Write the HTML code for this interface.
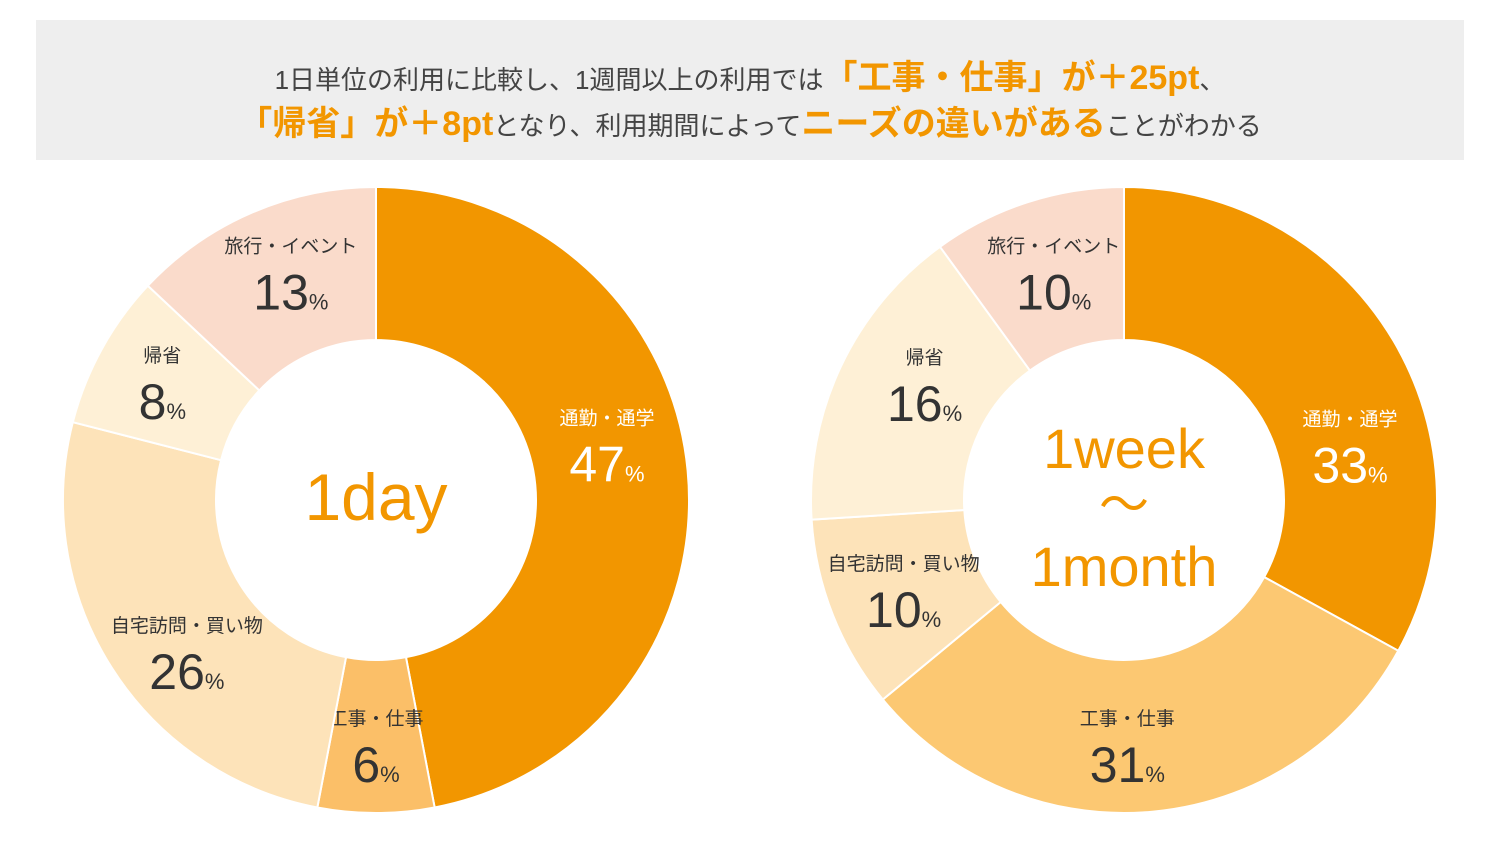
<!DOCTYPE html>
<html><head><meta charset="utf-8">
<style>
body{margin:0;width:1500px;height:844px;background:#fff;overflow:hidden;font-family:"Liberation Sans","Noto Sans CJK JP",sans-serif}
#banner{position:absolute;left:36px;top:20px;width:1428px;height:140px;background:#eeeeee}
.line{position:absolute;left:0;width:100%;text-align:center;color:#444;font-size:26px;white-space:nowrap}
.em{color:#f29600;font-size:34px;font-weight:bold}
svg{position:absolute;left:0;top:0}
</style></head><body>
<div id="banner">
<div class="line" style="top:30px">1日単位の利用に比較し、1週間以上の利用では<span class="em">「工事・仕事」が＋25pt</span>、</div>
<div class="line" style="top:76px"><span class="em">「帰省」が＋8pt</span>となり、利用期間によって<span class="em">ニーズの違いがある</span>ことがわかる</div>
</div>
<svg id="chart" width="1500" height="844"></svg>
<script>
const categories=["通勤・通学","工事・仕事","自宅訪問・買い物","帰省","旅行・イベント"];
const valuesDay=[47,6,26,8,13];
const valuesWeek=[33,31,10,16,10];
const colorsDay=["#f29600","#fbbf68","#fde3b9","#fef0d6","#fadbcb"];
const colorsWeek=["#f29600","#fcc872","#fde3b9","#fef0d6","#fadbcb"];
const labelNudgeDay=[[-5,-39],[0,2],[11,19],[-6,-10],[9,-16]];
const labelNudgeWeek=[[22,60],[-19,3],[0,-3],[15,-21],[3,-8]];
const NS="http://www.w3.org/2000/svg";
const svg=document.getElementById('chart');
function mk(t,a){const e=document.createElementNS(NS,t);for(const k in a)e.setAttribute(k,a[k]);svg.appendChild(e);return e;}
function donut(cx,cy,vals,cols,nudge,prefix){
  const R=313,r=160;let acc=0;const tot=vals.reduce((a,b)=>a+b,0);
  vals.forEach((v,i)=>{
    const a0=acc/tot*2*Math.PI,a1=(acc+v)/tot*2*Math.PI;acc+=v;
    const p=(a,rad)=>[cx+rad*Math.sin(a),cy-rad*Math.cos(a)];
    const [x0,y0]=p(a0,R),[x1,y1]=p(a1,R),[x2,y2]=p(a1,r),[x3,y3]=p(a0,r);
    const lg=(a1-a0)>Math.PI?1:0;
    const path=mk('path',{d:`M${x0},${y0}A${R},${R} 0 ${lg} 1 ${x1},${y1}L${x2},${y2}A${r},${r} 0 ${lg} 0 ${x3},${y3}Z`,fill:cols[i],stroke:'#fff','stroke-width':2});
    
    
    const am=(a0+a1)/2;let [mx,my]=p(am,237);
    mx+=nudge[i][0];my+=nudge[i][1];
    const col=i===0?'#fff':'#333';
    const n=mk('text',{x:mx,y:my-14,'text-anchor':'middle','font-size':19,fill:col});
    n.textContent=categories[i];
    
    
    const t=mk('text',{x:mx,y:my+43,'text-anchor':'middle','font-size':50,fill:col});
    t.innerHTML=v+'<tspan font-size="22">%</tspan>';
    
    
  });
}
donut(376,500,valuesDay,colorsDay,labelNudgeDay,'day');
donut(1124,500,valuesWeek,colorsWeek,labelNudgeWeek,'week');
function ct(x,y,s,txt,name){const e=mk('text',{x:x,y:y,'text-anchor':'middle','font-size':s,fill:'#f29600'});e.textContent=txt;

}
ct(376,520,66,'1day','center-label-day');
ct(1124,468,56,'1week','center-label-week');
ct(1124,522,50,'〜','center-label-tilde');
ct(1124,586,56,'1month','center-label-month');
</script>
</body></html>
